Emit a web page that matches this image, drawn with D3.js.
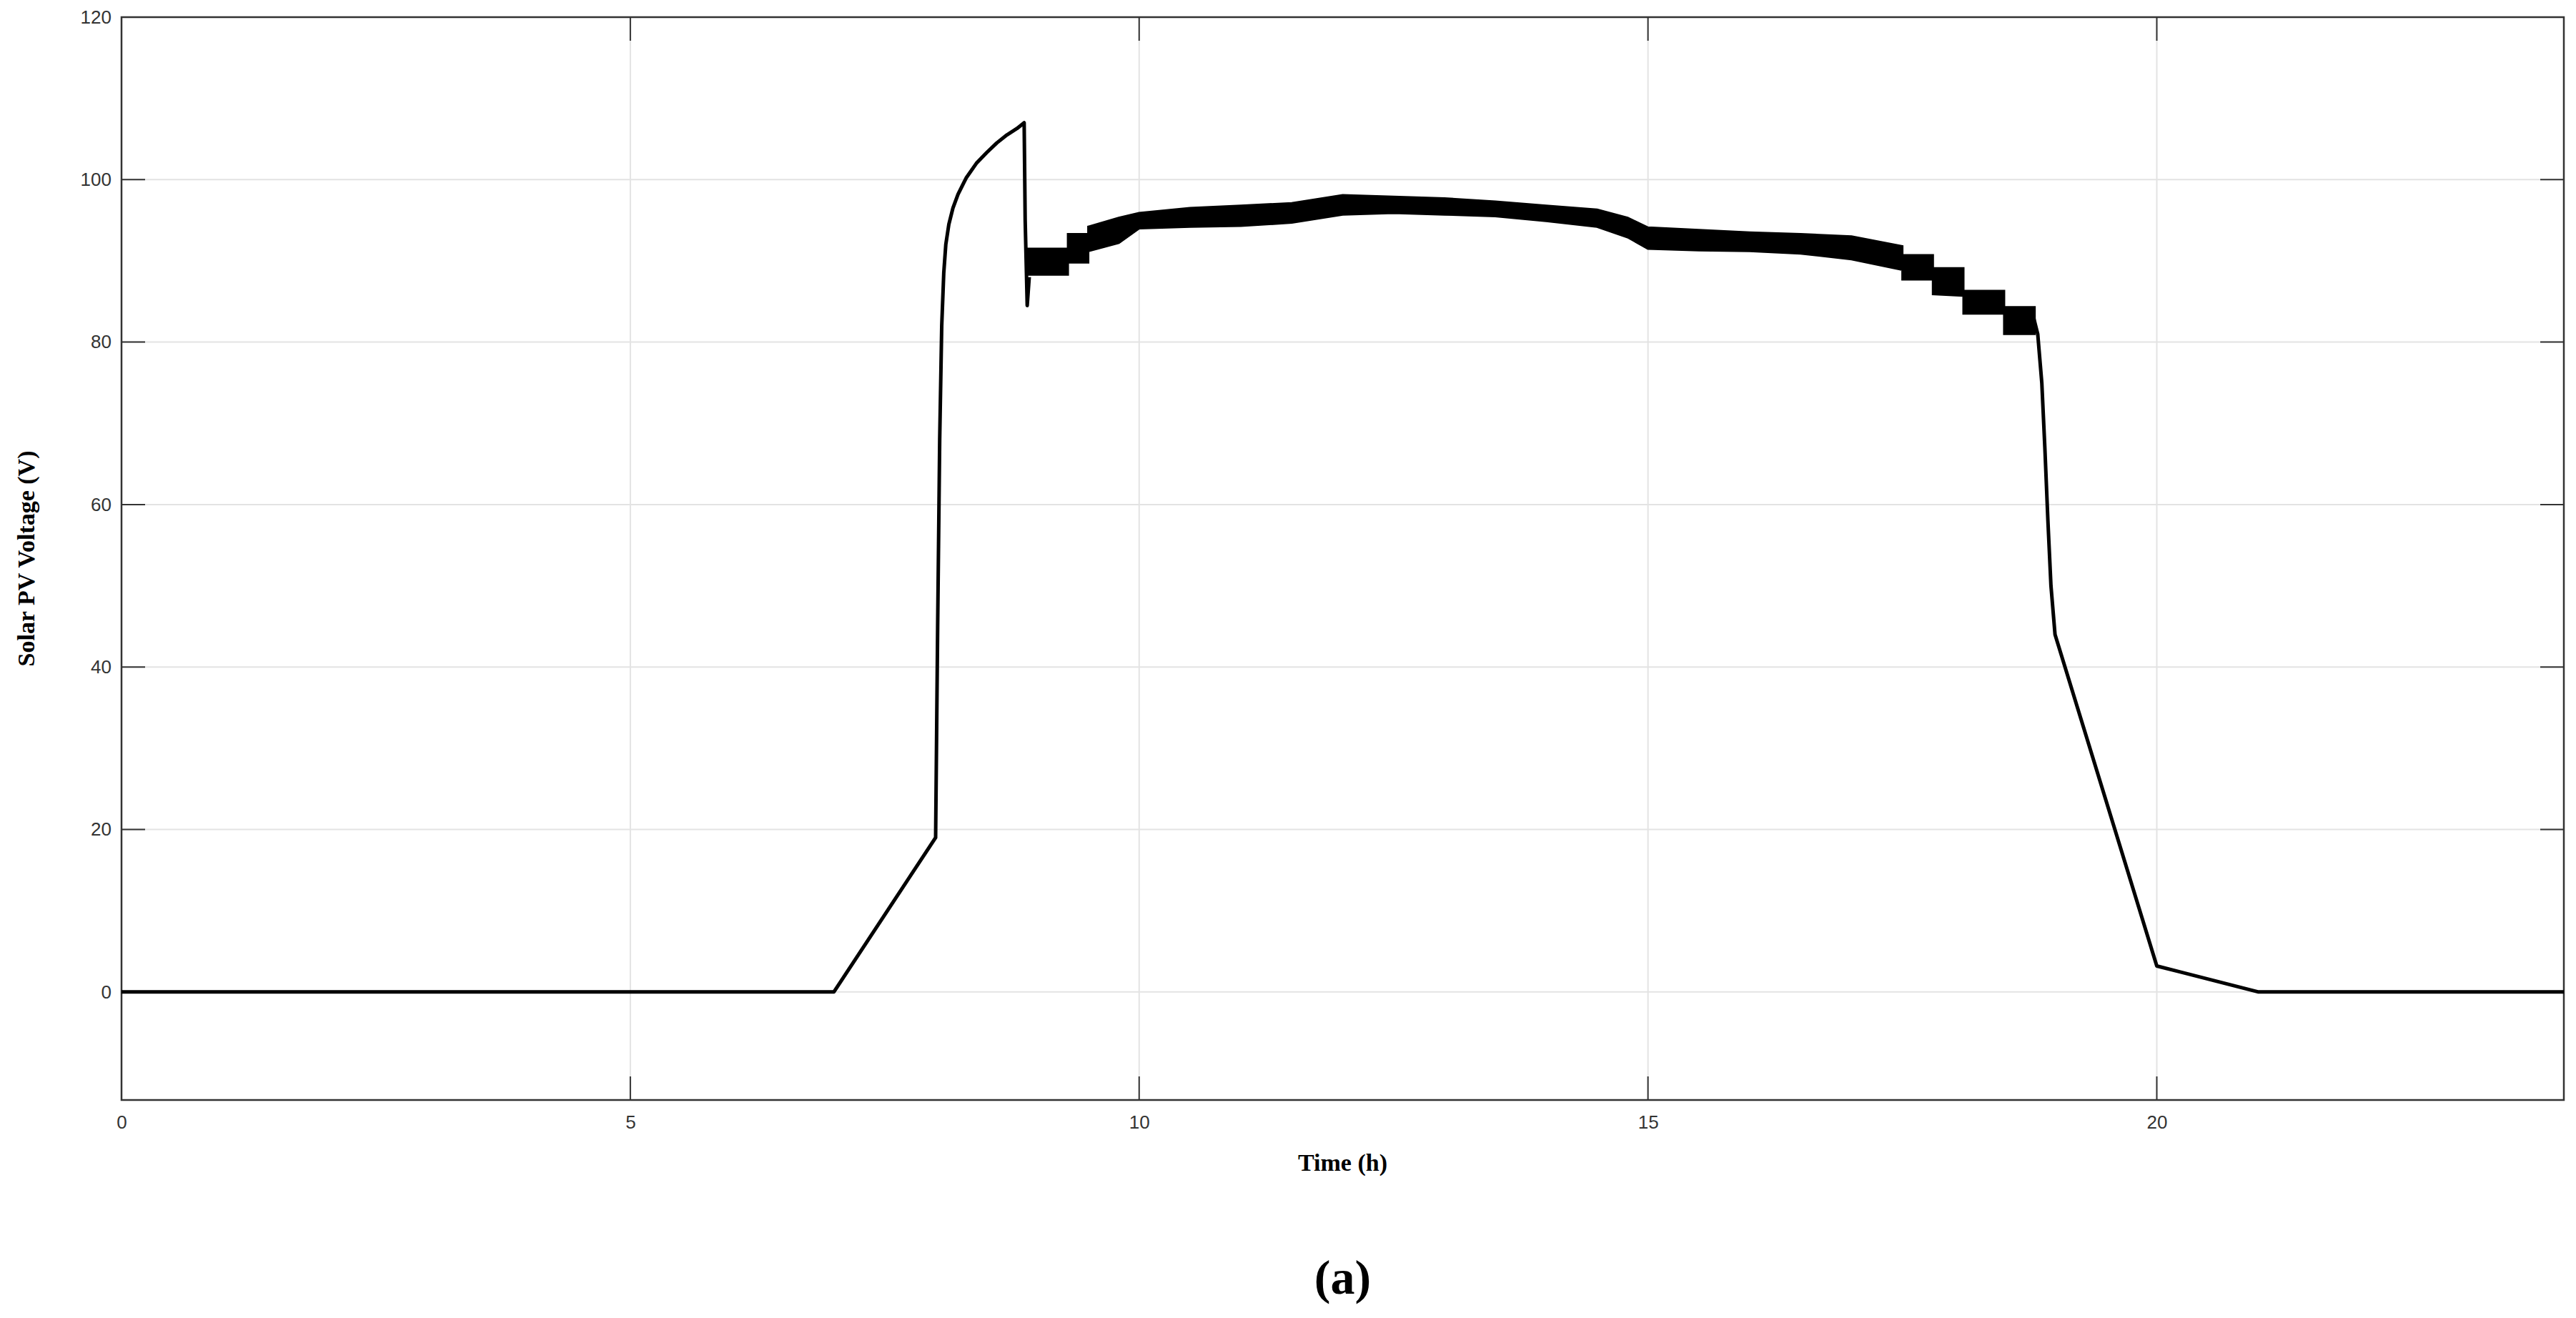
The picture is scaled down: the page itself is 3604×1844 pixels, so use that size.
<!DOCTYPE html>
<html><head><meta charset="utf-8">
<script src="https://cdn.jsdelivr.net/npm/d3@7/dist/d3.min.js"></script>
<style>body{margin:0;background:#fff}</style></head>
<body><svg id="c" width="3604" height="1844"></svg>
<script>
const xTicks=[0,5,10,15,20];
const yTicks=[0,20,40,60,80,100,120];
// smooth parts of the trace (time h, voltage V)
const riseT=[0,7,8,8.02,8.04,8.06,8.08,8.1,8.13,8.17,8.22,8.3,8.4,8.5,8.6,8.7,8.8,8.87,8.88,8.9,8.92];
const riseV=[0,0,19,45,68,82,88.5,92,94.5,96.5,98.2,100.2,102,103.3,104.5,105.5,106.3,107,95,84.5,88];
const fallT=[18.78,18.83,18.87,18.9,18.93,18.96,19.0,20,21,24];
const fallV=[83.5,81,75,67,58,50,44,3.2,0,0];
// noisy band (time, lower, upper)
const bandT=[8.9,9.3,9.3,9.5,9.5,9.8,10.0,10.5,11.0,11.5,12.0,12.5,13.0,13.5,14.0,14.5,14.8,15.0,15.5,16.0,16.5,17.0,17.5,17.5,17.8,17.8,18.1,18.1,18.5,18.5,18.8];
const bandLo=[88.3,88.3,89.8,89.8,91.2,92.2,94,94.2,94.3,94.7,95.7,95.9,95.7,95.5,94.9,94.2,92.9,91.5,91.3,91.2,90.9,90.2,88.9,87.7,87.7,85.9,85.7,83.5,83.5,81,81];
const bandHi=[91.5,91.5,93.3,93.3,94.2,95.3,95.9,96.5,96.8,97.1,98.1,97.9,97.7,97.3,96.8,96.3,95.3,94.1,93.8,93.5,93.3,93,91.8,90.7,90.7,89.1,89.1,86.3,86.3,84.3,84.3];

const svg=d3.select("#c");
const L=170,R=3587,T=24,B=1539;
const x=d3.scaleLinear().domain([0,24]).range([L,R]);
const y=d3.scaleLinear().domain([-13.3,120]).range([B,T]);
const g=svg.append("g");
g.selectAll(".gx").data(xTicks.slice(1)).enter().append("line").attr("x1",d=>x(d)).attr("x2",d=>x(d)).attr("y1",T).attr("y2",B).attr("stroke","#e3e3e3").attr("stroke-width",2);
g.selectAll(".gy").data(yTicks).enter().append("line").attr("y1",d=>y(d)).attr("y2",d=>y(d)).attr("x1",L).attr("x2",R).attr("stroke","#e3e3e3").attr("stroke-width",2);
const fs="'Liberation Sans',Arial,sans-serif";
const ax=svg.append("g").attr("transform",`translate(0,${B})`).call(d3.axisBottom(x).tickValues(xTicks).tickSize(0).tickPadding(22));
const ay=svg.append("g").attr("transform",`translate(${L},0)`).call(d3.axisLeft(y).tickValues(yTicks).tickSize(0).tickPadding(14));
[ax,ay].forEach(a=>{a.select(".domain").remove();a.selectAll("text").attr("font-family",fs).attr("font-size",26).attr("fill","#333");});
svg.selectAll(".tx").data(xTicks).enter().append("line").attr("x1",d=>x(d)).attr("x2",d=>x(d)).attr("y1",B).attr("y2",B-33).attr("stroke","#333").attr("stroke-width",2);
svg.selectAll(".tx2").data(xTicks).enter().append("line").attr("x1",d=>x(d)).attr("x2",d=>x(d)).attr("y1",T).attr("y2",T+33).attr("stroke","#333").attr("stroke-width",2);
svg.selectAll(".ty").data(yTicks).enter().append("line").attr("y1",d=>y(d)).attr("y2",d=>y(d)).attr("x1",L).attr("x2",L+33).attr("stroke","#333").attr("stroke-width",2);
svg.selectAll(".ty2").data(yTicks).enter().append("line").attr("y1",d=>y(d)).attr("y2",d=>y(d)).attr("x1",R).attr("x2",R-33).attr("stroke","#333").attr("stroke-width",2);
svg.append("rect").attr("x",L).attr("y",T).attr("width",R-L).attr("height",B-T).attr("fill","none").attr("stroke","#333").attr("stroke-width",2.5);
const line=d3.line().x(d=>x(d[0])).y(d=>y(d[1]));
svg.append("path").attr("d",line(riseT.map((t,i)=>[t,riseV[i]]))).attr("fill","none").attr("stroke","#000").attr("stroke-width",5).attr("stroke-linejoin","round");
svg.append("path").attr("d",line(fallT.map((t,i)=>[t,fallV[i]]))).attr("fill","none").attr("stroke","#000").attr("stroke-width",5).attr("stroke-linejoin","round");
const area=d3.area().x(d=>x(d[0])).y0(d=>y(d[1])).y1(d=>y(d[2]));
svg.append("path").attr("d",area(bandT.map((t,i)=>[t,bandLo[i],bandHi[i]]))).attr("fill","#000").attr("stroke","#000").attr("stroke-width",3);
const serif="'Liberation Serif','DejaVu Serif',serif";
svg.append("text").attr("x",(L+R)/2).attr("y",1638).attr("text-anchor","middle").attr("font-family",serif).attr("font-weight","bold").attr("font-size",34).text("Time (h)");
svg.append("text").attr("transform",`translate(48,${(T+B)/2}) rotate(-90)`).attr("text-anchor","middle").attr("font-family",serif).attr("font-weight","bold").attr("font-size",34).text("Solar PV Voltage (V)");
svg.append("text").attr("x",(L+R)/2).attr("y",1810).attr("text-anchor","middle").attr("font-family",serif).attr("font-weight","bold").attr("font-size",68).text("(a)");
</script></body></html>
